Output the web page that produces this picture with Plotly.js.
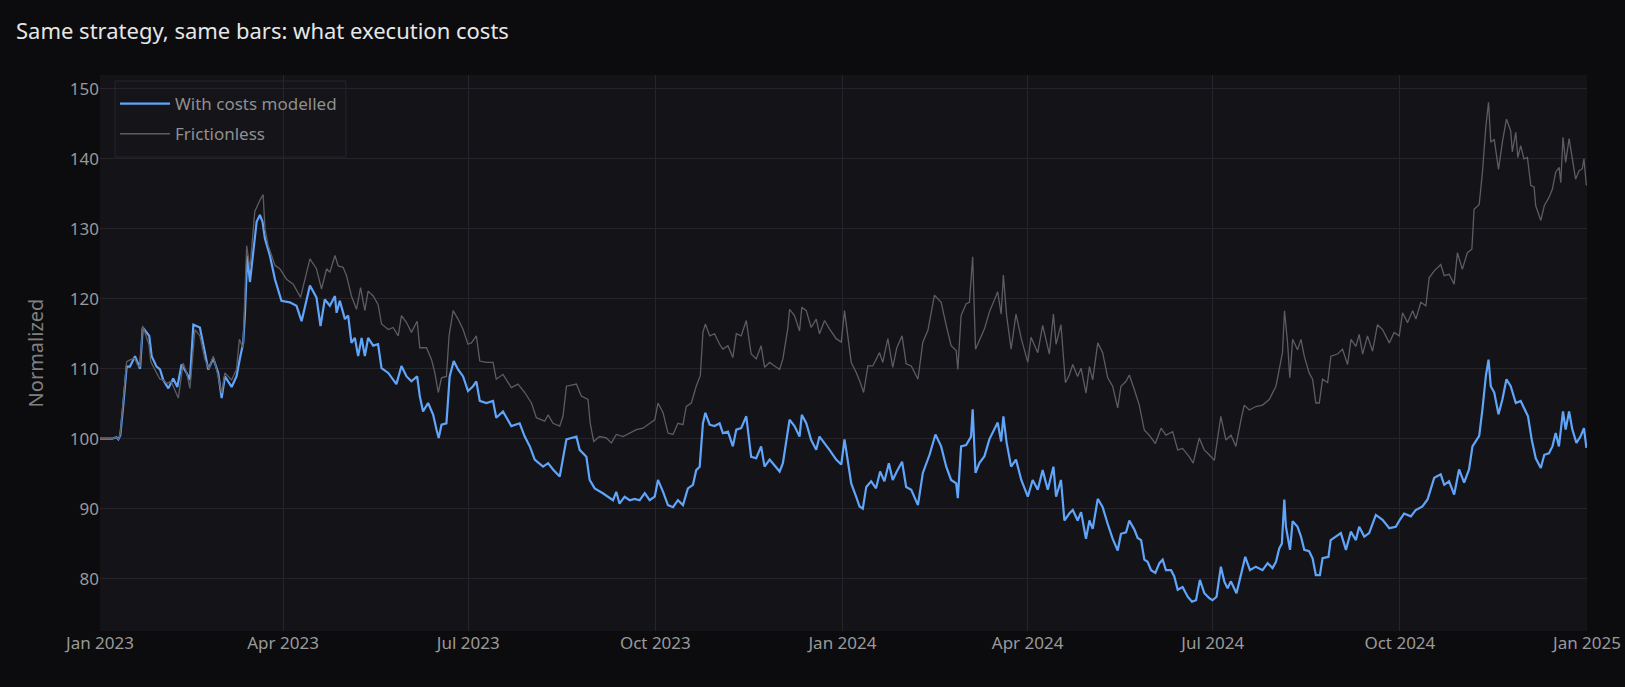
<!DOCTYPE html>
<html>
<head>
<meta charset="utf-8">
<script src="https://cdn.plot.ly/plotly-3.0.1.min.js"></script>
<style>
  html, body { margin: 0; padding: 0; background: #0c0c0e; }
  #chart { width: 1625px; height: 687px; }
</style>
</head>
<body>
<div id="chart"></div>
<script>
// Day offsets are counted from this start date
const startDate = '2023-01-01';

// "With costs modelled" series: day offsets and normalized values
const costDays = [0,3,6,8,9,10,10.6,11.5,13.1,14.7,17.2,19.7,21,22.9,24.2,25.4,27.8,29.5,31.1,33.6,36,38,40.1,42.6,44.2,45.9,49.1,51.6,53.2,55.7,58.1,59.8,61.4,64.7,67.1,68.8,70.4,71.2,72.4,73.7,75.3,77,78.6,79.9,81.1,83.5,86,89.2,93.3,96.6,99.1,103.2,106.4,108.4,110.5,113,115.5,116.3,117.9,120.4,122,123.6,125.3,126.9,128.6,130.2,131.8,134.3,136.7,138.4,141.7,144.1,145.7,148.2,150.7,153.1,155.9,157.2,158.8,161.3,163.8,165.4,166.5,167.9,170.3,171.9,173.9,176,178.5,180.9,183.4,185,186.7,189.9,193.2,194.8,198.1,202.2,206.3,208.8,211.3,213.7,217.8,220.3,222.7,226,227.6,229.3,231.7,234.2,235.8,239.1,240.7,243.2,247.2,249.7,252.2,253.8,255.4,257.9,260.4,262.8,265.3,267.8,270.2,272.7,274.3,276.8,279.2,281.7,284.1,286.6,289,291.5,293.1,294.8,296.4,297.6,299.7,302.1,304.6,306.2,308.7,311.1,312.8,315.2,317.7,320.1,322.6,325,326.7,329.2,331.6,334.1,335.7,337.3,339,341.4,343.9,345,347.2,349.6,352.1,353.7,356.2,358.6,361.9,364.4,366,367.7,369.3,371.7,373.4,375,376.7,379.1,381.5,383.5,385.6,387.8,389.7,391.7,394.3,396.3,398.8,402.1,404.5,407.8,410.7,413.5,416,418.4,420.9,421.7,423.3,425.8,428.2,429,430.4,432.3,434.8,437.2,439.7,441.3,443,444.1,445.7,447.9,450.3,452.9,456.1,458.5,461,463.4,465.9,468.7,470,472.4,474.1,476.5,478.2,480.6,482.3,484.7,486.4,488,490.5,492.9,495.4,497.8,500.3,501.9,504.4,506,508.5,510.1,511.8,513.4,515,516.7,518.8,520.8,522.4,524,526.5,528.1,529.8,532.2,534.7,536.8,538.8,540.7,542.9,545.3,546.9,548.9,551,552.7,554.3,555.9,558.7,560.9,563,565.3,568.2,571.5,574,576.4,578.1,579.7,581,582.2,583,585,586.3,588.7,590.4,592,594.4,596.1,597.7,599.7,601,603.9,605,607.5,610,612.5,614.9,617.4,619,621.5,623.9,627.2,630.5,633.8,637,639,641.1,644.4,646.8,650.1,652.6,655.9,659.1,660.8,663.2,665.7,668.1,670.6,673,674.7,678,679.6,681.3,682.6,683.7,685.4,687.5,689.4,691.4,693.5,696,698.4,700.9,702,703.8,705.8,708.3,710,712.3,714,715.6,717.2,719.2,720.5,722.2,723.8,725.8,727.8,729.5,730.7];
const costValues = [100,100,100,100.2,99.9,100.5,102,105,110.3,110.3,111.8,110,115.9,115.2,114.7,111.8,110.3,109.9,108.4,107.2,108.6,107.4,110.6,109.4,108.4,116.3,115.9,112.3,109.9,111.5,109.4,105.8,108.9,107.4,108.9,111.5,113.7,117.5,126.2,122.4,126.7,131,132,131,128.6,126.2,122.8,119.7,119.5,119,116.8,121.9,120.2,116.1,119.9,119,120.4,118,119.7,117.1,117.6,113.7,114.4,111.8,114.4,111.8,114.4,113.3,113.5,110.1,109.4,108.5,107.8,110.4,108.9,108.2,108.9,106.1,103.9,105.1,103.4,101.3,100.1,102,102.2,108.9,111.1,109.9,108.9,106.8,107.5,108.2,105.4,105.1,105.4,103,103.9,101.8,102.2,100.3,98.9,97,96,96.5,95.6,94.6,97,99.9,100.1,100.3,98.4,97.4,94.1,92.9,92.2,91.7,91.2,92.4,90.7,91.7,91.2,91.4,91.2,92.2,91.2,91.7,94.1,92.4,90.5,90.2,91.2,90.5,92.9,93.4,95.5,96,102.2,103.7,102,101.8,102.2,100.8,101,98.9,101.3,101.5,103.2,97.4,97.2,98.9,96,97,96.2,95.3,96.5,99.8,102.7,101.8,100.3,103.4,102.2,99.8,98.4,100.3,99.4,98.4,97,96.3,99.9,96.5,93.6,91.7,90.3,90,93.1,93.9,92.9,95.3,93.9,96.5,94.1,95.3,96.7,93.1,92.7,90.5,95.1,97.7,100.6,98.9,96,94.1,93.6,91.5,98.9,99.1,100.3,104.2,95.1,96.5,97.5,99.9,101.3,102.3,99.6,103.2,99.4,96,97,94.1,91.7,94.1,92.7,95.5,92.7,96,91.7,94.1,88.3,89.3,89.8,88.3,89.5,85.7,88.3,87.1,91.4,90.2,87.8,85.7,84,86.4,86.6,88.3,87,85.8,85.5,82.7,82.4,81.2,80.8,82.2,82.7,81.2,81.2,80.3,78.4,78.8,77.4,76.7,76.9,79.8,77.9,77.2,76.9,77.4,81.7,79.6,78.6,79.6,77.9,80.5,83.1,81.2,81.7,81.2,82.2,81.5,82.4,84.3,85,91.3,87.4,84.1,88.2,87.4,86,84.1,83.9,82.9,80.5,80.5,82.9,83.1,85.5,86,86.5,84.1,86.7,85.5,87.4,86,86.5,89.1,88.4,87.2,87.4,88.4,89.3,88.9,89.8,90.3,91.3,94.4,94.9,93.4,93.9,92,95.6,93.7,95.6,98.9,100.4,104.2,109,111.3,107.5,106.6,103.5,105.6,108.5,107.5,105.1,105.4,104,103.2,99.9,97.2,95.8,97.7,97.9,98.9,100.8,98.9,103.9,101.3,103.9,101.3,99.4,100.3,101.5,98.7];

// "Frictionless" series: day offsets and normalized values
const fricDays = [0,3,6,8,9,10,10.6,11.5,13.1,15,17,18.5,19.6,21,22,23,24,25,26.5,27.8,29.5,31,32.8,35,36,38.5,40.9,42.5,44.2,46.7,49.1,51.6,53.5,55.7,58,59.8,61.4,64.7,67.1,68.5,70.3,72.1,73.7,76.1,78.6,80.2,81.1,82.7,86,88.4,91.7,95,98.6,103.2,106.4,108.9,111.4,113,115.5,117.1,119.5,121.2,123.6,126.1,128.1,130.2,131.8,134.3,136.7,138.4,141.7,144.1,146.6,148.2,150.7,153.1,155.9,157.2,160.5,163,164.6,166.3,167.9,170.3,171.6,173.6,176,178.5,180.9,182.6,185,186.7,189.9,193.2,194.8,198.1,202.2,205.5,208.8,212.1,214.5,218.6,220.3,222.7,226,227.6,229.3,231.7,234.2,236.6,239.9,241,242.7,245.6,248.9,251.4,253.8,257.1,260.4,263.7,266.9,270.2,272.7,274.3,276.8,279.2,281.7,284.1,286.6,288.2,290.7,293.1,295.1,296.4,297.6,299.7,302.1,304.6,306.2,308.7,311.1,312.8,315.2,317.7,320.1,322.6,325,326.7,329.2,331.6,334.1,335.7,338.1,339,341.4,343.9,345,347.2,349.6,352.1,353.7,356.2,358.6,361.9,364.4,366,367.7,369.3,371.7,373.4,375.4,377.5,379.9,383.2,384.8,387.3,389.7,391.7,394.3,396.3,398.8,402.1,404.5,407,410.2,413.5,416,418.4,420.9,421.7,423.3,425.8,427.4,429,430.4,432.3,434.8,437.2,439.7,441.3,443,444.1,445.7,447.9,450.3,452.9,456.1,457.7,461,463.4,466.7,468.7,470,472.4,474.6,476.5,478.2,480.6,482.3,484.7,486.4,488,490.5,492.9,495.4,497.8,500.3,501.9,504.4,506,508.5,510.9,513.4,515.8,518.8,521.6,524,527.3,529.8,532.2,535.5,537.4,540.4,542.8,545.3,547.8,551,553.5,556,558.4,560.9,562.5,565,568.2,571.5,574.8,578.1,579.7,581.3,582.3,583.8,584.9,586.3,588.7,590.4,592,594.4,596.1,597.7,599.4,601,603.5,605.1,608.4,610.8,613.3,615,617.4,619,620.7,623.1,625.6,628,630.5,633.8,636.2,638.7,640.3,642.8,645.3,646.9,649.3,651.8,653.4,655.9,659.1,660.8,663.2,665.7,667.3,669.7,672.2,674.4,675.5,678,679.6,681.3,682.6,683.7,685.4,687.5,689.4,691.4,693.5,694.3,696,697,698.4,700,701.7,703.4,705,705.8,707,708.3,710,712.3,714,715.6,717.3,718.1,719.2,720.5,722.2,723.8,725.4,727.1,728.7,729.5,730.7];
const fricValues = [100,100,100,100.2,99.9,100.7,102.5,105.5,111,111.3,111.5,110.5,110.3,116.1,115.2,114.5,113.5,111,110,109.4,108.5,108.4,107.9,108.2,107.5,105.8,110.8,109.5,107.2,115.6,114.7,111.3,110,111.8,109,106.5,109.4,108.4,109.9,114.2,113,127.6,124.3,132.5,134.1,134.9,130,127.6,124.8,124.3,122.8,122.1,120.2,125.7,124.3,121.4,124.3,123.8,126.2,124.7,124.5,123.3,120.4,118.5,121.6,118.3,121.1,120.4,119.2,116.4,115.6,115.9,114.7,117.6,116.6,115.2,116.8,113,113,111.3,109.4,106.6,108.7,108.9,114.7,118.3,117.1,115.6,113.5,113.7,114.7,111.1,110.9,110.9,108.5,109.2,107.3,107.8,106.6,105.1,103,102.5,103.4,102.2,101.8,103.2,107.5,107.6,107.8,106.1,105.6,102.2,99.6,100.3,100.1,99.4,100.6,100.3,100.8,101.3,101.5,102.2,102.7,105.1,103.7,100.8,100.6,102.2,102,104.6,105.1,107.5,109,115.2,116.4,114.7,115,113.5,112.8,113.3,111.6,115,114.7,116.9,112.1,111.4,113.3,110.2,110.9,110.4,109.9,111.4,115.7,118.5,117.6,115.4,118.8,118.3,115.9,117.1,115,116.9,115.7,114.3,113.8,118.3,114.7,110.9,109.5,108.3,106.6,110.4,110.4,112.3,110.9,114.3,110.2,113,114.7,110.7,110.4,108.5,113.8,115.5,120.5,119.5,116.2,113.3,112.6,109.9,117.6,119.3,119.5,126,112.8,114,115.7,118.1,120,121,117.8,123.4,117.6,112.8,117.8,114.3,110.9,114.5,112.3,116.2,112.1,117.8,113.5,116.3,108,109.1,110.6,108.9,110.1,106.5,110.3,108.4,113.7,112.3,108.7,107.5,104.4,107.5,108.2,109.1,107,104.8,101.2,100.5,99.3,101.5,100.5,101,98.4,98.6,97.4,96.5,100.1,98.4,97.7,96.9,103.2,99.8,100.5,98.9,102.7,104.8,104.1,104.6,104.8,105.6,107.5,109.9,112.3,118.3,113.7,108.7,114.2,112.7,114.2,111.8,109.4,108.5,105.1,105.1,108.5,108,111.8,112.1,112.8,110.6,114.2,113.2,114.9,112.1,114.7,112.5,116.3,115.6,113.7,115.2,114.7,118,116.6,118.3,117.1,119.5,119,123,124,124.9,123.3,123.5,122.1,126.6,124.2,126.6,127.1,132.8,133.5,138.1,144.7,148.1,142.4,142.8,138.5,142.4,145.7,144,141,143.8,140.2,141.9,140,140.2,136.2,136,133.3,132.3,131.2,133.3,134.5,135.7,138.1,138.8,136.6,143.1,139.5,142.9,140,137.1,138.3,138.6,140,136.2];

const seriesNames = ['With costs modelled', 'Frictionless'];
const chartTitle = 'Same strategy, same bars: what execution costs';
const yTitle = 'Normalized';

function toDates(days) {
  const t0 = Date.parse(startDate + 'T00:00:00Z');
  return days.map(d => {
    const dt = new Date(t0 + d * 86400000);
    return dt.toISOString().slice(0, 16).replace('T', ' ');
  });
}

const FONT = '"Noto Sans", "Open Sans", sans-serif';

const traces = [
  {
    x: toDates(costDays), y: costValues, name: seriesNames[0],
    type: 'scatter', mode: 'lines', legendgroup: 'g1',
    line: { color: '#60a5fa', width: 2.2 }
  },
  {
    x: toDates(fricDays), y: fricValues, name: seriesNames[1],
    type: 'scatter', mode: 'lines', legendgroup: 'g2',
    line: { color: '#5c5c62', width: 1.3 }
  }
];

const layout = {
  width: 1625, height: 687,
  paper_bgcolor: '#0c0c0e',
  plot_bgcolor: '#131318',
  margin: { l: 100, r: 38, t: 75, b: 56 },
  font: { family: FONT, color: '#9a9a9a', size: 17 },
  title: {
    text: chartTitle, x: 16 / 1625, xanchor: 'left', xref: 'container',
    y: 1 - 31 / 687, yanchor: 'middle', yref: 'container',
    font: { family: FONT, size: 22, color: '#e6e6e6' }
  },
  showlegend: true,
  legend: {
    x: 0.0101, y: 0.980, xanchor: 'left', yanchor: 'top',
    bgcolor: 'rgba(0,0,0,0)', borderwidth: 0,
    font: { family: FONT, size: 17, color: '#8f8f8f' },
    itemwidth: 50, tracegroupgap: 5
  },
  // legend frame
  shapes: [{
    type: 'rect', xref: 'paper', yref: 'paper', layer: 'between',
    x0: 0.0101, x1: 0.1654, y0: 0.8525, y1: 0.9892,
    line: { color: '#26262c', width: 1 },
    fillcolor: 'rgba(22,22,28,0.55)'
  }],
  xaxis: {
    type: 'date',
    range: ['2023-01-01', '2025-01-01'],
    tick0: '2023-01-01', dtick: 'M3', tickformat: '%b %Y',
    gridcolor: '#24242a', gridwidth: 1,
    showline: false, zeroline: false,
    tickfont: { family: FONT, size: 17, color: '#9a9a9a' }
  },
  yaxis: {
    range: [72.5, 152],
    dtick: 10,
    gridcolor: '#24242a', gridwidth: 1,
    showline: false, zeroline: false,
    tickfont: { family: FONT, size: 17, color: '#9a9a9a' },
    title: { text: yTitle, font: { family: FONT, size: 20, color: '#808080' }, standoff: 20 }
  }
};

Plotly.newPlot('chart', traces, layout, { displayModeBar: false, staticPlot: true });
</script>
</body>
</html>
